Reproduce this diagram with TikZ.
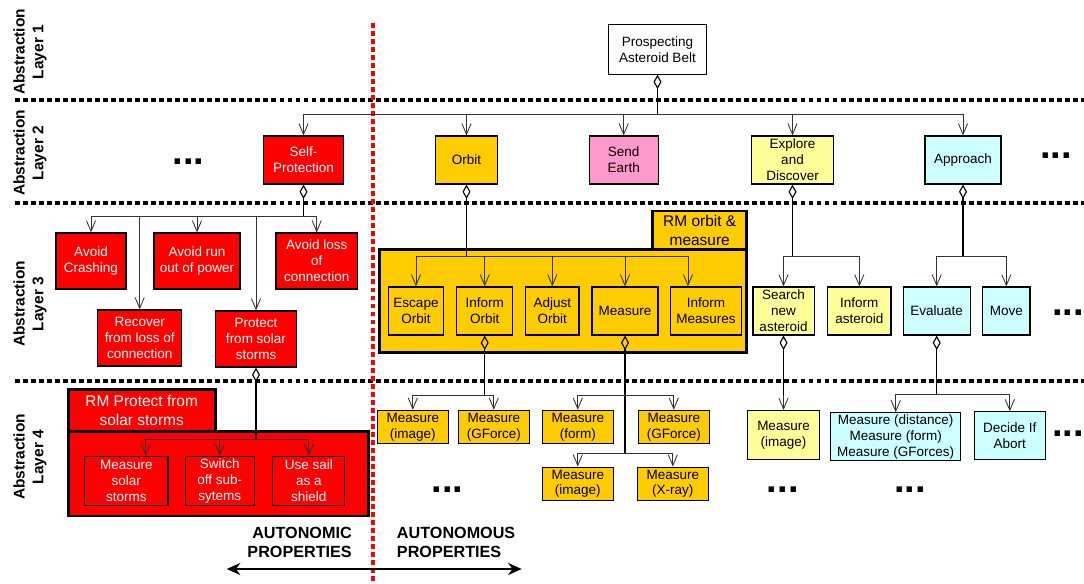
\documentclass[tikz,border=0pt]{standalone}
\usepackage{fontspec}
\setmainfont{Liberation Sans}
\usetikzlibrary{arrows.meta}
\definecolor{gold}{HTML}{FFCC00}
\definecolor{rose}{HTML}{FF99CC}
\definecolor{lemon}{HTML}{FFFF99}
\definecolor{ice}{HTML}{CCFFFF}
\definecolor{alarm}{HTML}{FF0000}

\begin{document}
\begin{tikzpicture}[x=0.025cm,y=-0.025cm]
        \tikzstyle{box}=[draw=black,line width=0.85pt,align=center,inner sep=1pt,font=\fontsize{9.6}{11.3}\selectfont]
        \tikzstyle{redbox}=[box,fill=alarm,text=white]
        \tikzstyle{rm}=[draw=black,line width=2pt]
        \tikzstyle{tab}=[rm,align=center,inner sep=1pt,font=\fontsize{11}{13.7}\selectfont]
        \tikzstyle{layer}=[rotate=90,align=center,font=\fontsize{11}{13.5}\selectfont\bfseries]
        \tikzstyle{sep}=[line width=2.2pt,dash pattern=on 3.5pt off 2.2pt]
        \tikzstyle{trunk}=[line width=1.1pt,arrows={Diamond[open,length=0.36cm,width=0.2cm,line width=0.8pt]-}]
        \tikzstyle{branch}=[line width=0.6pt,draw=black!80,arrows={-Straight Barb[length=0.27cm,width=0.23cm]}]
        \tikzstyle{more}=[inner sep=0pt,font=\fontsize{27}{27}\selectfont\bfseries]
        \tikzstyle{side}=[inner sep=0pt,font=\fontsize{11.5}{13.5}\selectfont\bfseries]

        \useasboundingbox (0,0) rectangle (1084,584);

        \draw[sep] (15,100) -- (1084,100);
        \draw[sep] (15,203) -- (1084,203);
        \draw[sep] (15,381) -- (1084,381);
        \draw[sep,draw=alarm] (373,23) -- (373,584);

        \node (l1)[layer] at (30,52) {Abstraction\\Layer 1};
        \node (l2)[layer] at (30,153) {Abstraction\\Layer 2};
        \node (l3)[layer] at (30,304) {Abstraction\\Layer 3};
        \node (l4)[layer] at (30,457) {Abstraction\\Layer 4};

        \node (top)[box,fill=white,minimum width=2.43cm,minimum height=1.23cm] at (657.5,49.5) {Prospecting\\Asteroid Belt};

        \node (sp)[redbox,minimum width=1.98cm,minimum height=1.2cm] at (303.5,160) {Self-\\Protection};
        \node (orb)[box,fill=gold,minimum width=1.55cm,minimum height=1.2cm] at (466.5,160) {Orbit};
        \node (se)[box,fill=rose,minimum width=1.73cm,minimum height=1.2cm] at (623.7,160) {Send\\Earth};
        \node (ed)[box,fill=lemon,minimum width=2.05cm,minimum height=1.2cm] at (792.5,160) {Explore\\and\\Discover};
        \node (app)[box,fill=ice,minimum width=1.9cm,minimum height=1.2cm] at (963,160) {Approach};

        \node (ac)[redbox,minimum width=1.75cm,minimum height=1.4cm] at (91,261) {Avoid\\Crashing};
        \node (ar)[redbox,minimum width=2.15cm,minimum height=1.4cm] at (197,261) {Avoid run\\out of power};
        \node (al)[redbox,minimum width=2.03cm,minimum height=1.4cm] at (316.7,261) {Avoid loss\\of\\connection};
        \node (rl)[redbox,minimum width=2.1cm,minimum height=1.4cm] at (139.7,338) {Recover\\from loss of\\connection};
        \node (ps)[redbox,minimum width=2.03cm,minimum height=1.4cm] at (256,339) {Protect\\from solar\\storms};

        \node (rmo)[rm,fill=gold,minimum width=9.17cm,minimum height=2.58cm] at (563.3,300.8) {};
        \node (rmot)[tab,fill=gold,minimum width=2.35cm,minimum height=0.96cm] at (699.7,230.2) {RM orbit \&\\measure};
        \node (eo)[box,fill=gold,minimum width=1.38cm,minimum height=1.2cm] at (416,311) {Escape\\Orbit};
        \node (io)[box,fill=gold,minimum width=1.4cm,minimum height=1.2cm] at (484.7,311) {Inform\\Orbit};
        \node (ao)[box,fill=gold,minimum width=1.33cm,minimum height=1.2cm] at (552.3,311) {Adjust\\Orbit};
        \node (me)[box,fill=gold,minimum width=1.65cm,minimum height=1.2cm] at (625,311) {Measure};
        \node (im)[box,fill=gold,minimum width=1.78cm,minimum height=1.2cm] at (706,311) {Inform\\Measures};

        \node (sna)[box,fill=lemon,minimum width=1.53cm,minimum height=1.2cm] at (783.5,311) {Search\\new\\asteroid};
        \node (ia)[box,fill=lemon,minimum width=1.58cm,minimum height=1.2cm] at (859.3,311) {Inform\\asteroid};
        \node (ev)[box,fill=ice,minimum width=1.68cm,minimum height=1.2cm] at (936.7,311) {Evaluate};
        \node (mv)[box,fill=ice,minimum width=1.18cm,minimum height=1.2cm] at (1006.3,311) {Move};

        \node (rmp)[rm,fill=alarm,minimum width=7.5cm,minimum height=2.11cm] at (218.3,473.8) {};
        \node (rmpt)[tab,fill=alarm,text=white,minimum width=3.67cm,minimum height=1.06cm] at (141.7,410.5) {RM Protect from\\solar storms};
        \node (mss)[redbox,minimum width=2.08cm,minimum height=1.23cm] at (126.3,481) {Measure\\solar\\storms};
        \node (sos)[redbox,minimum width=1.73cm,minimum height=1.23cm] at (219.8,481) {Switch\\off sub-\\sytems};
        \node (us)[redbox,minimum width=1.8cm,minimum height=1.23cm] at (308.8,481) {Use sail\\as a\\shield};

        \node (mi1)[box,fill=gold,minimum width=1.78cm,minimum height=0.83cm] at (412.8,427) {Measure\\(image)};
        \node (mg1)[box,fill=gold,minimum width=1.78cm,minimum height=0.83cm] at (493.8,427) {Measure\\(GForce)};
        \node (mf)[box,fill=gold,minimum width=1.78cm,minimum height=0.83cm] at (577.8,427) {Measure\\(form)};
        \node (mg2)[box,fill=gold,minimum width=1.78cm,minimum height=0.83cm] at (673.8,427) {Measure\\(GForce)};
        \node (mi2)[box,fill=gold,minimum width=1.78cm,minimum height=0.83cm] at (577.8,483.7) {Measure\\(image)};
        \node (mx)[box,fill=gold,minimum width=1.78cm,minimum height=0.83cm] at (672.8,483.7) {Measure\\(X-ray)};

        \node (mi3)[box,fill=lemon,minimum width=1.8cm,minimum height=1.22cm] at (783.5,435) {Measure\\(image)};
        \node (mdist)[box,fill=ice,minimum width=3.25cm,minimum height=1.2cm] at (895.7,436.8) {Measure (distance)\\Measure (form)\\Measure (GForces)};
        \node (da)[box,fill=ice,minimum width=1.78cm,minimum height=1.2cm] at (1009.8,435.8) {Decide If\\Abort};

        \node (d2l)[more] at (188.7,162) {...};
        \node (d2r)[more] at (1056,156) {...};
        \node (d3r)[more] at (1068,313) {...};
        \node (d4a)[more] at (447.5,489.3) {...};
        \node (d4b)[more] at (782.8,489.3) {...};
        \node (d4c)[more] at (910,489.3) {...};
        \node (d4r)[more] at (1068,434) {...};

        \node (aut)[side,anchor=east,align=right] at (352,542.5) {AUTONOMIC\\PROPERTIES};
        \node (aus)[side,anchor=west,align=left] at (396.7,542.5) {AUTONOMOUS\\PROPERTIES};

        \coordinate (wl) at (226.7,569);
        \coordinate (wr) at (521.7,569);
        \draw[line width=2pt,{Stealth[length=0.34cm,width=0.3cm]}-{Stealth[length=0.34cm,width=0.3cm]}] (wl) -- (wr);

        \coordinate (j0) at (657.5,114);
        \draw[trunk] (top) -- (j0);
        \draw[branch] (j0) -| (sp);
        \draw[branch] (j0) -| (orb);
        \draw[branch] (j0) -| (se);
        \draw[branch] (j0) -| (ed);
        \draw[branch] (j0) -| (app);

        \coordinate (j1) at (303.5,216.7);
        \draw[trunk] (sp) -- (j1);
        \draw[branch] (j1) -| (ac);
        \draw[branch] (j1) -| (rl);
        \draw[branch] (j1) -| (ar);
        \draw[branch] (j1) -| (ps);
        \draw[branch] (j1) -| (al);

        \coordinate (j2) at (466.5,256.7);
        \draw[trunk] (orb) -- (j2);
        \draw[branch] (j2) -| (eo);
        \draw[branch] (j2) -| (io);
        \draw[branch] (j2) -| (ao);
        \draw[branch] (j2) -| (me);
        \draw[branch] (j2) -| ([xshift=-0.45cm]im.north);

        \coordinate (j3) at (792.5,256.7);
        \draw[trunk] (ed) -- (j3);
        \draw[branch] (j3) -| (sna);
        \draw[branch] (j3) -| (ia);

        \coordinate (j4) at (963,256.7);
        \draw[trunk] (app) -- (j4);
        \draw[branch] (j4) -| (ev);
        \draw[branch] (j4) -| (mv);

        \coordinate (j5) at (256,439.3);
        \draw[trunk] (ps) -- (j5);
        \draw[branch] (j5) -| ([xshift=0.49cm]mss.north);
        \draw[branch] (j5) -| (sos);
        \draw[branch] (j5) -| (us);

        \coordinate (j6) at (484.7,395.7);
        \draw[trunk] (io) -- (j6);
        \draw[branch] (j6) -| (mi1);
        \draw[branch] (j6) -| (mg1);

        \coordinate (j7) at (625,395.7);
        \coordinate (j8) at (625,453.3);
        \draw[trunk] (me) -- (j8);
        \draw[branch] (j7) -| (mf);
        \draw[branch] (j7) -| (mg2);
        \draw[branch] (j8) -| (mi2);
        \draw[branch] (j8) -| (mx);

        \coordinate (j10) at (783.5,395);
        \draw[trunk] (sna) -- (j10);
        \draw[branch] (j10) -- (mi3);

        \coordinate (j9) at (936.7,394);
        \draw[trunk] (ev) -- (j9);
        \draw[branch] (j9) -| (mdist);
        \draw[branch] (j9) -| (da);
\end{tikzpicture}
\end{document}
